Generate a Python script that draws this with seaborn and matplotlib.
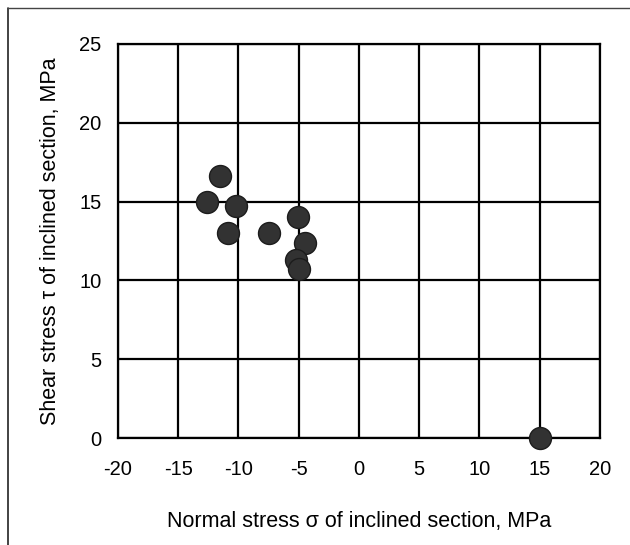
import matplotlib
matplotlib.use("Agg")
import matplotlib.pyplot as plt
from matplotlib.lines import Line2D
import seaborn as sns
import pandas as pd

normal_stress = [-11.5, -12.6, -10.2, -10.9, -7.5, -5.1, -4.5, -5.2, -5.0, 15.0]
shear_stress = [16.6, 15.0, 14.7, 13.0, 13.0, 14.0, 12.4, 11.3, 10.7, 0.0]

x_ticks = [-20, -15, -10, -5, 0, 5, 10, 15, 20]
y_ticks = [0, 5, 10, 15, 20, 25]

df = pd.DataFrame({"sigma": normal_stress, "tau": shear_stress})

sns.set_style("white")
plt.rcParams["font.family"] = ["Liberation Sans", "DejaVu Sans"]
plt.rcParams["axes.unicode_minus"] = False
plt.rcParams["text.color"] = "black"
plt.rcParams["axes.labelcolor"] = "black"
plt.rcParams["xtick.color"] = "black"
plt.rcParams["ytick.color"] = "black"

fig = plt.figure(figsize=(6.3, 5.45), dpi=100)
ax = fig.add_axes([0.1873, 0.1963, 0.765, 0.723])

sns.scatterplot(
    data=df, x="sigma", y="tau", ax=ax,
    s=250, color="#323232", edgecolor="#1c1c1c", linewidth=1.0,
    zorder=5, clip_on=False
)

ax.set_xlim(-20, 20)
ax.set_ylim(0, 25)
ax.set_xticks(x_ticks)
ax.set_yticks(y_ticks)
ax.grid(True, color="black", linewidth=1.6)
ax.set_axisbelow(True)
for sp in ax.spines.values():
    sp.set_color("black")
    sp.set_linewidth(1.6)

ax.tick_params(axis="x", length=0, pad=16, labelsize=14.5)
ax.tick_params(axis="y", length=0, pad=12, labelsize=14.5)
ax.set_xlabel("Normal stress σ of inclined section, MPa", fontsize=15.5, labelpad=23)
ax.set_ylabel("Shear stress τ of inclined section, MPa", fontsize=15.5, labelpad=13)

# scan frame on left and top
fig.add_artist(Line2D([0.013, 0.013], [0.0, 0.985], color="#222222", linewidth=1.2))
fig.add_artist(Line2D([0.013, 1.0], [0.985, 0.985], color="#444444", linewidth=1.0))

fig.savefig("out.png", dpi=100)
plt.close(fig)
